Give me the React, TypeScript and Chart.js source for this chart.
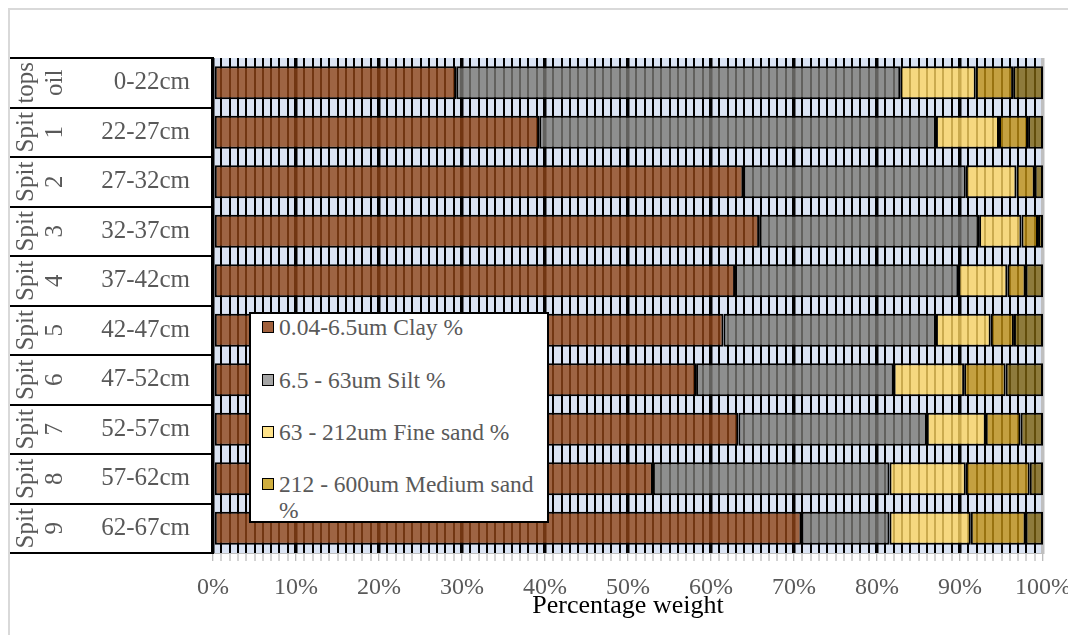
import React, { useEffect, useRef } from "react";
import { Chart, registerables } from "chart.js";

Chart.register(...registerables);

// ---- data ----
const depthLabels = ["0-22cm", "22-27cm", "27-32cm", "32-37cm", "37-42cm", "42-47cm", "47-52cm", "52-57cm", "57-62cm", "62-67cm"];
const unitLabels = [["tops", "oil"], ["Spit", "1"], ["Spit", "2"], ["Spit", "3"], ["Spit", "4"], ["Spit", "5"], ["Spit", "6"], ["Spit", "7"], ["Spit", "8"], ["Spit", "9"]];
const clay = [29.3, 39.3, 63.9, 65.8, 62.9, 61.5, 58.2, 63.3, 53.0, 70.9];
const silt = [53.5, 47.8, 26.8, 26.5, 26.9, 25.6, 23.8, 22.7, 28.5, 10.6];
const fineSand = [9.1, 7.6, 6.1, 5.1, 5.9, 6.6, 8.5, 7.1, 9.2, 9.8];
const mediumSand = [4.5, 3.5, 2.2, 2.0, 2.2, 2.8, 5.0, 4.2, 7.7, 6.6];
const coarseSand = [3.6, 1.8, 1.0, 0.6, 2.1, 3.5, 4.5, 2.7, 1.6, 2.1];
const seriesNames = ["0.04-6.5um Clay %", "6.5 - 63um Silt %", "63 - 212um Fine sand %", "212 - 600um Medium sand %", "600 - 2000um Coarse sand %"];
const xAxisTitle = "Percentage weight";

// ---- styles ----
const barColors = [
  "rgba(143,68,22,0.8)",
  "rgba(123,121,117,0.8)",
  "rgba(252,213,97,0.8)",
  "rgba(190,143,19,0.8)",
  "rgba(123,96,14,0.8)",
];
const legendColors = ["#a0603c", "#a5a5a5", "#ffe38a", "#cfae3f"];
const FONT = '"Liberation Serif", "Times New Roman", serif';
const TEXT = "#595959";

const plotBg = {
  id: "plotBg",
  beforeDraw(chart: any) {
    const { ctx, chartArea } = chart;
    ctx.save();
    ctx.fillStyle = "#dae3f3";
    ctx.fillRect(chartArea.left, chartArea.top, chartArea.right - chartArea.left, chartArea.bottom - chartArea.top);
    ctx.restore();
  },
};

const labelTable = {
  id: "labelTable",
  afterDraw(chart: any) {
    const { ctx, chartArea } = chart;
    const yScale = chart.scales.y;
    const n = depthLabels.length;
    const h = (chartArea.bottom - chartArea.top) / n;
    ctx.save();
    ctx.strokeStyle = "#000";
    ctx.lineWidth = 2;
    for (let i = 0; i <= n; i++) {
      const yy = Math.round(chartArea.top + i * h);
      ctx.beginPath();
      ctx.moveTo(0, yy);
      ctx.lineTo(chartArea.left, yy);
      ctx.stroke();
    }
    ctx.fillStyle = TEXT;
    ctx.font = `25px ${FONT}`;
    ctx.textAlign = "center";
    ctx.textBaseline = "middle";
    const lineGap = 29;
    const cx = 30.5;
    unitLabels.forEach((lines, i) => {
      const yc = yScale.getPixelForValue(i);
      lines.forEach((t, j) => {
        const x = cx + (j - (lines.length - 1) / 2) * lineGap;
        ctx.save();
        ctx.translate(x, yc);
        ctx.rotate(-Math.PI / 2);
        ctx.fillText(t, 0, 0);
        ctx.restore();
      });
    });
    ctx.restore();
  },
};

export default function App() {
  const ref = useRef<HTMLCanvasElement>(null);

  useEffect(() => {
    document.documentElement.style.overflow = "hidden";
    const data = [clay, silt, fineSand, mediumSand, coarseSand];
    const chart = new Chart(ref.current as HTMLCanvasElement, {
      type: "bar",
      data: {
        labels: depthLabels,
        datasets: data.map((d, i) => ({
          label: seriesNames[i],
          data: d,
          backgroundColor: barColors[i],
          borderColor: "#000",
          borderWidth: 2,
          borderSkipped: false,
          barPercentage: 0.67,
          categoryPercentage: 1,
        })),
      },
      options: {
        indexAxis: "y",
        responsive: false,
        animation: false,
        layout: { padding: { left: 0, top: 48, right: 31, bottom: 0 } },
        plugins: {
          legend: { display: false },
          tooltip: { enabled: false },
          title: { display: false },
        },
        scales: {
          x: {
            type: "linear",
            stacked: true,
            min: 0,
            max: 100,
            afterFit(scale: any) {
              scale.height = 82;
              scale.paddingLeft = 0;
              scale.paddingRight = 0;
            },
            ticks: {
              stepSize: 1,
              autoSkip: false,
              maxRotation: 0,
              padding: 12,
              color: TEXT,
              font: { family: FONT, size: 24 },
              callback: (v: any) => (Number(v) % 10 === 0 ? `${v}%` : ""),
            },
            grid: {
              color: (c: any) => (c.tick && c.tick.value === 100 ? "#bfbfbf" : "#000"),
              lineWidth: (c: any) => (c.tick && c.tick.value % 10 === 0 ? 3.5 : 2),
              tickColor: "#a6a6a6",
              tickWidth: 1,
              tickLength: 8,
            },
            border: { display: true, color: "#bfbfbf", width: 1 },
            title: {
              display: true,
              text: xAxisTitle,
              color: "#000",
              font: { family: FONT, size: 26 },
              padding: { top: 0, bottom: 13 },
            },
          },
          y: {
            type: "category",
            stacked: true,
            afterFit(scale: any) {
              scale.width = 203;
            },
            ticks: {
              padding: 23,
              color: TEXT,
              font: { family: FONT, size: 25 },
            },
            grid: { display: false, drawTicks: false },
            border: { display: true, color: "#000", width: 2 },
          },
        },
      },
      plugins: [plotBg, labelTable],
    } as any);
    return () => chart.destroy();
  }, []);

  const itemTops = [0, 53, 105, 157];

  return (
    <div
      style={{
        position: "relative",
        width: 1068,
        height: 640,
        border: "2px solid #d9d9d9",
        boxSizing: "border-box",
      }}
    >
      <canvas ref={ref} width={1064} height={625} style={{ display: "block", width: 1064, height: 625 }} />
      <div
        style={{
          position: "absolute",
          left: 239,
          top: 302,
          width: 300,
          height: 211,
          background: "#fff",
          border: "2px solid #000",
          boxSizing: "border-box",
          fontFamily: FONT,
          fontSize: 23.5,
          color: TEXT,
        }}
      >
        {seriesNames.slice(0, 4).map((name, i) => (
          <div
            key={i}
            style={{
              position: "absolute",
              left: 11,
              top: itemTops[i],
              width: 284,
              lineHeight: "26px",
              display: "flex",
              alignItems: "flex-start",
            }}
          >
            <span
              style={{
                flex: "0 0 auto",
                width: 12,
                height: 12,
                marginTop: 7,
                marginRight: 5,
                border: "1.5px solid #000",
                boxSizing: "border-box",
                background: legendColors[i],
              }}
            />
            <span>{name}</span>
          </div>
        ))}
      </div>
    </div>
  );
}
